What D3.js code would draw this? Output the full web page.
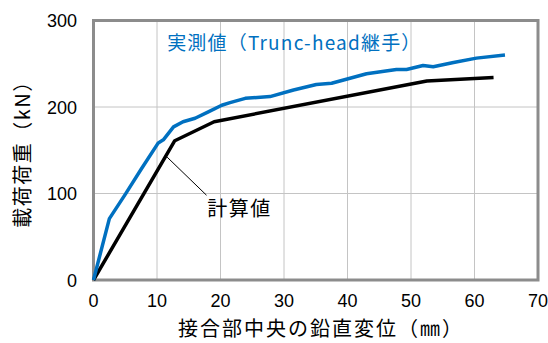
<!DOCTYPE html>
<html>
<head>
<meta charset="utf-8">
<script src="https://cdn.jsdelivr.net/npm/d3@7"></script>
<style>
  html, body { margin: 0; padding: 0; background: #fff; }
  svg { display: block; }
</style>
</head>
<body>
<svg id="chart" width="548" height="343"></svg>
<script>
// Load–displacement curves: measured vs calculated
const measuredDisp = [0, 2.5, 5, 7.5, 10.2, 11, 12.6, 14.1, 16, 18, 20.2, 21.5, 23.9, 27.8, 31.5, 35.1, 37.5, 43, 47.7, 49.3, 51.9, 53.5, 56.7, 60.3, 64.8];
const measuredLoad = [0, 71, 99, 128, 158.5, 162, 177, 183, 187, 194, 202, 205, 210, 212, 219.6, 226, 227.5, 238.5, 243.3, 243.3, 248, 246.5, 251.5, 256.5, 260];
const calcDisp = [0, 12.8, 19, 52.5, 63];
const calcLoad = [0, 161, 183, 230, 234];

const xTicks = [0, 10, 20, 30, 40, 50, 60, 70];
const yTicks = [0, 100, 200, 300];

const xTitle = "接合部中央の鉛直変位（㎜）";
const yTitle = "載荷荷重（kN）";
const seriesTitle = "実測値（Trunc-head継手）";
const calcLabel = "計算値";

const svg = d3.select("#chart");
const x = d3.scaleLinear().domain([0, 70]).range([93.5, 538]);
const y = d3.scaleLinear().domain([0, 300]).range([280, 20.5]);

const cjk = "'Noto Sans CJK JP', 'Noto Sans', sans-serif";
const num = "'Liberation Sans', Arial, sans-serif";

// gridlines
svg.append("g").selectAll("line.vx").data(xTicks.slice(1, -1)).join("line")
  .attr("x1", d => x(d)).attr("x2", d => x(d))
  .attr("y1", y(300)).attr("y2", y(0))
  .attr("stroke", "#c4c4c4").attr("stroke-width", 1);
svg.append("g").selectAll("line.hy").data(yTicks.slice(1, -1)).join("line")
  .attr("x1", x(0)).attr("x2", x(70))
  .attr("y1", d => y(d)).attr("y2", d => y(d))
  .attr("stroke", "#c4c4c4").attr("stroke-width", 1);

// plot frame
svg.append("rect")
  .attr("x", x(0)).attr("y", y(300))
  .attr("width", x(70) - x(0)).attr("height", y(0) - y(300))
  .attr("fill", "none").attr("stroke", "#8c8c8c").attr("stroke-width", 3);

// tick labels
svg.append("g").selectAll("text").data(xTicks).join("text")
  .attr("x", d => x(d)).attr("y", 307)
  .attr("text-anchor", "middle")
  .attr("font-family", num).attr("font-size", 18).attr("fill", "#000")
  .text(d => d);
svg.append("g").selectAll("text").data(yTicks).join("text")
  .attr("x", 77).attr("y", d => y(d) + 6.5)
  .attr("text-anchor", "end")
  .attr("font-family", num).attr("font-size", 18).attr("fill", "#000")
  .text(d => d);

// axis titles
svg.append("text")
  .attr("x", 321).attr("y", 336)
  .attr("text-anchor", "middle")
  .attr("font-family", cjk).attr("font-size", 20).attr("fill", "#000")
  .attr("letter-spacing", 2)
  .text(xTitle);
svg.append("text")
  .attr("transform", "translate(30,149) rotate(-90)")
  .attr("text-anchor", "middle")
  .attr("font-family", cjk).attr("font-size", 20).attr("fill", "#000")
  .attr("letter-spacing", 1.5)
  .text(yTitle);

const line = d3.line().x(d => x(d[0])).y(d => y(d[1]));

// calculated curve
svg.append("path")
  .datum(calcDisp.map((d, i) => [d, calcLoad[i]]))
  .attr("d", line)
  .attr("fill", "none").attr("stroke", "#000").attr("stroke-width", 3.5)
  .attr("stroke-linejoin", "round");

// measured curve
svg.append("path")
  .datum(measuredDisp.map((d, i) => [d, measuredLoad[i]]))
  .attr("d", line)
  .attr("fill", "none").attr("stroke", "#0070c0").attr("stroke-width", 3.5)
  .attr("stroke-linejoin", "round");

// leader + label for the calculated curve
svg.append("line")
  .attr("x1", x(11.6)).attr("y1", y(142))
  .attr("x2", x(17.8)).attr("y2", y(98))
  .attr("stroke", "#000").attr("stroke-width", 1);
svg.append("text")
  .attr("x", x(17.9)).attr("y", y(82) + 7)
  .attr("font-family", cjk).attr("font-size", 20).attr("fill", "#000")
  .attr("letter-spacing", 1.5)
  .text(calcLabel);

// series title
svg.append("text")
  .attr("x", x(11.6)).attr("y", y(274) + 7)
  .attr("font-family", cjk).attr("font-size", 19).attr("fill", "#0070c0")
  .attr("letter-spacing", 1.2)
  .text(seriesTitle);
</script>
</body>
</html>
